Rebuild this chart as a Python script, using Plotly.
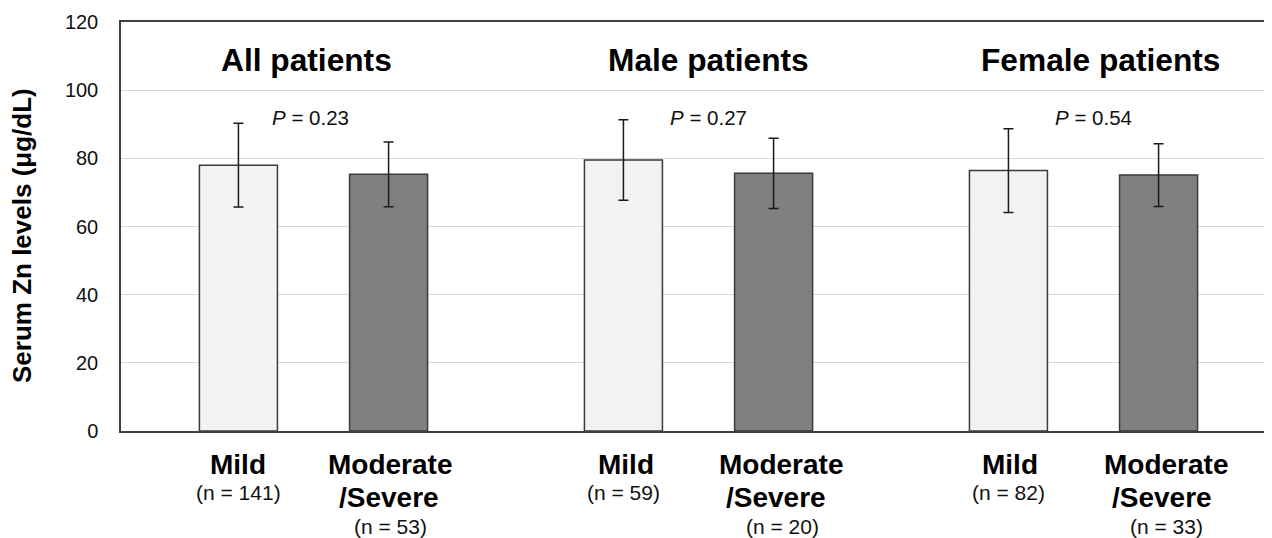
import plotly.graph_objects as go

# ---- data ----
groups = ["All patients", "Male patients", "Female patients"]
severities = ["Mild", "Moderate/Severe"]
mild_mean = [78.0, 79.5, 76.4]
mild_sd = [12.3, 11.8, 12.3]
mod_mean = [75.3, 75.6, 75.1]
mod_sd = [9.5, 10.3, 9.2]
mild_n = [141, 59, 82]
mod_n = [53, 20, 33]
p_values = ["0.23", "0.27", "0.54"]

FONT = "Liberation Sans, Arial, sans-serif"
OFF = 0.195
BW = 0.2026
PX = 1 / 385.0  # one pixel in x-axis units

gi = list(range(len(groups)))
x_mild = [g - OFF for g in gi]
x_mod = [g + OFF for g in gi]

fig = go.Figure()
fig.add_trace(go.Bar(
    x=x_mild, y=mild_mean, width=BW, name=severities[0],
    marker=dict(color="#f2f2f2", line=dict(color="#3a3a3a", width=1.5)),
    error_y=dict(type="data", array=mild_sd, visible=True, color="#1a1a1a", thickness=1.5, width=5),
))
fig.add_trace(go.Bar(
    x=x_mod, y=mod_mean, width=BW, name=severities[1],
    marker=dict(color="#808080", line=dict(color="#3a3a3a", width=1.5)),
    error_y=dict(type="data", array=mod_sd, visible=True, color="#1a1a1a", thickness=1.5, width=5),
))

def py2paper(py):
    return (431 - py) / 409.0

# small text nudges (pixels) to follow the reference layout
title_dx = [-7, 10, 17]
p_dx = [-3, 10, 10]
mild_dx = [0, 3, 2]
moder_dx = [1, 7, 7]
severe_dx = [0, 2, 3]
nmod_dx = [2, 9, 8]

ann = []
for g in gi:
    ann.append(dict(x=g + title_dx[g] * PX, y=py2paper(60), xref="x", yref="paper", text="<b>%s</b>" % groups[g],
                    showarrow=False, font=dict(size=31.7, color="#000", family=FONT), xanchor="center", yanchor="middle"))
    ann.append(dict(x=g + p_dx[g] * PX, y=py2paper(118), xref="x", yref="paper", text="<i>P</i> = %s" % p_values[g],
                    showarrow=False, font=dict(size=20.5, color="#111", family=FONT), xanchor="center", yanchor="middle"))
    # Mild labels
    ann.append(dict(x=x_mild[g] + mild_dx[g] * PX, y=py2paper(464), xref="x", yref="paper", text="<b>Mild</b>",
                    showarrow=False, font=dict(size=28, color="#000", family=FONT), xanchor="center", yanchor="middle"))
    ann.append(dict(x=x_mild[g], y=py2paper(493), xref="x", yref="paper", text="(n = %d)" % mild_n[g],
                    showarrow=False, font=dict(size=21, color="#111", family=FONT), xanchor="center", yanchor="middle"))
    # Moderate/Severe labels
    ann.append(dict(x=x_mod[g] + moder_dx[g] * PX, y=py2paper(464), xref="x", yref="paper", text="<b>Moderate</b>",
                    showarrow=False, font=dict(size=28, color="#000", family=FONT), xanchor="center", yanchor="middle"))
    ann.append(dict(x=x_mod[g] + severe_dx[g] * PX, y=py2paper(497), xref="x", yref="paper", text="<b>/Severe</b>",
                    showarrow=False, font=dict(size=28, color="#000", family=FONT), xanchor="center", yanchor="middle"))
    ann.append(dict(x=x_mod[g] + nmod_dx[g] * PX, y=py2paper(526), xref="x", yref="paper", text="(n = %d)" % mod_n[g],
                    showarrow=False, font=dict(size=21, color="#111", family=FONT), xanchor="center", yanchor="middle"))

ann.append(dict(x=(22 - 121) / 1150.0, y=py2paper(236), xref="paper", yref="paper",
                text="<b>Serum Zn levels (μg/dL)</b>", textangle=-90, showarrow=False,
                font=dict(size=26, color="#000", family=FONT), xanchor="center", yanchor="middle"))

# the page adds an 8px body margin, so the figure is 8px smaller and its margins 8px tighter
fig.update_layout(
    width=1264, height=530,
    margin=dict(l=113, r=1, t=14, b=107),
    paper_bgcolor="white", plot_bgcolor="white",
    showlegend=False,
    annotations=ann,
    font=dict(family=FONT),
)
fig.update_xaxes(range=[-0.5, 2.487], showticklabels=False, ticks="", showgrid=False, zeroline=False,
                 showline=True, linecolor="#404040", linewidth=1.5, mirror=True)
fig.update_yaxes(range=[0, 120], dtick=20, tick0=0, showgrid=True, gridcolor="#d9d9d9", gridwidth=1,
                 zeroline=False, showline=True, linecolor="#404040", linewidth=1.5, ticks="",
                 ticklabelstandoff=17, tickfont=dict(size=20, color="#111", family=FONT))

fig.write_html("out.html")
